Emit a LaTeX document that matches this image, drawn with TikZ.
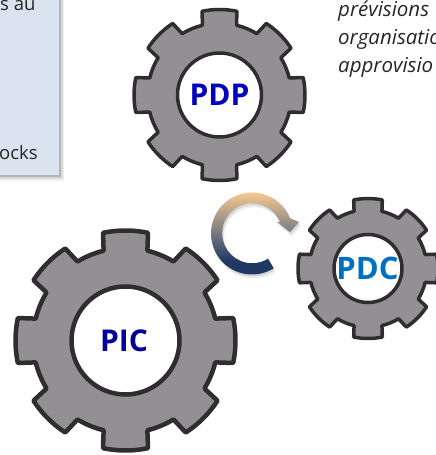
\documentclass[tikz,border=0pt]{standalone}
\usepackage{fontspec}
\setmainfont{Open Sans}
\definecolor{gearfill}{HTML}{948F94}
\definecolor{gearline}{HTML}{2E2E2E}
\definecolor{boxfill}{HTML}{DAE4F1}
\definecolor{fadenavy}{RGB}{31,56,100}
\definecolor{fademid}{RGB}{130,128,130}
\definecolor{fadetan}{RGB}{246,200,145}
\pgfdeclareverticalshading{arrowfade}{100bp}{
  color(0bp)=(fadenavy);
  color(36bp)=(fadenavy);
  color(54bp)=(fademid);
  color(75bp)=(fadetan);
  color(100bp)=(fadetan)}
\newcommand{\geartrain}[4]{%
  \pgfmathsetmacro{\rv}{#3*0.84}%
  \draw[gearbody,line width=#4pt,shift={(#1pt,#2pt)}] (-13.7:\rv pt)
    \foreach \a in {0,45,...,315}{
      -- (\a-11.8:#3 pt) arc[start angle=\a-11.8,end angle=\a+11.8,radius=#3 pt]
      -- (\a+13.7:\rv pt) arc[start angle=\a+13.7,end angle=\a+31.3,radius=\rv pt]
    } -- cycle;%
}
\newcommand{\ringpath}{%
  (252,221.5) ++(-58:41pt) arc[start angle=-58,end angle=-270,radius=41pt]
  arc[start angle=90,end angle=22,radius=41pt]
  -- (299,233) -- (290,223) -- (277,233) -- (280,233)
  arc[start angle=22,end angle=90,radius=30pt]
  arc[start angle=90,end angle=302,radius=30pt] -- cycle}
\tikzset{
  gearbody/.style={fill=gearfill,draw=gearline,line join=round},
  hole/.style={circle,fill=white,draw=gearline,inner sep=0pt,font=\bfseries\fontsize{30}{30}\selectfont},
  note/.style={anchor=base west,inner sep=0pt,font=\fontsize{18.5}{18.5}\selectfont,text=black!85},
  notei/.style={note,font=\fontsize{20.5}{20.5}\selectfont\itshape}
}
\begin{document}
\begin{tikzpicture}[x=1pt,y=1pt]
\useasboundingbox (0,0) rectangle (436,455);
\clip (0,0) rectangle (436,455);
% text box
\fill[black,opacity=.06] (-5,274) rectangle (64,455);
\fill[black,opacity=.10] (-5,276) rectangle (62.5,455);
\fill[black,opacity=.16] (-5,278) rectangle (61,455);
\node[fill=boxfill,minimum width=70pt,minimum height=190pt,inner sep=0pt,anchor=south east] (box) at (59,280) {};
\node[note] (boxtop) at (0,444) {s au};
\node[note] (boxbot) at (-1,295) {ocks};
% right text
\node[notei] (t1) at (338,438) {prévisions};
\node[notei] (t2) at (338,410) {organisatio};
\node[notei] (t3) at (338,382) {approvisio};
% gears
\geartrain{219.5}{360}{85.5}{3.5}
\node[hole,line width=3.5pt,minimum size=84pt,text={rgb,255:red,0;green,0;blue,192}] (pdp) at (219.5,360) {PDP};
\geartrain{125.5}{114.5}{110}{4.5}
\node[hole,line width=4.5pt,minimum size=108pt,text={rgb,255:red,0;green,0;blue,154}] (pic) at (125.5,114.5) {\kern-3pt PIC};
\geartrain{368}{186.5}{70}{3.5}
\node[hole,line width=3.5pt,minimum size=68pt,text={rgb,255:red,0;green,112;blue,192},font=\bfseries\fontsize{31}{31}\selectfont] (pdc) at (368,186.5) {\raisebox{-1pt}{\kern-1pt PDC}};
% cycle arrow
\fill[black,opacity=.07,shift={(2pt,-4pt)}] \ringpath;
\fill[black,opacity=.10,shift={(1pt,-2pt)}] \ringpath;
\shade[shading=arrowfade] \ringpath;
\end{tikzpicture}
\end{document}
